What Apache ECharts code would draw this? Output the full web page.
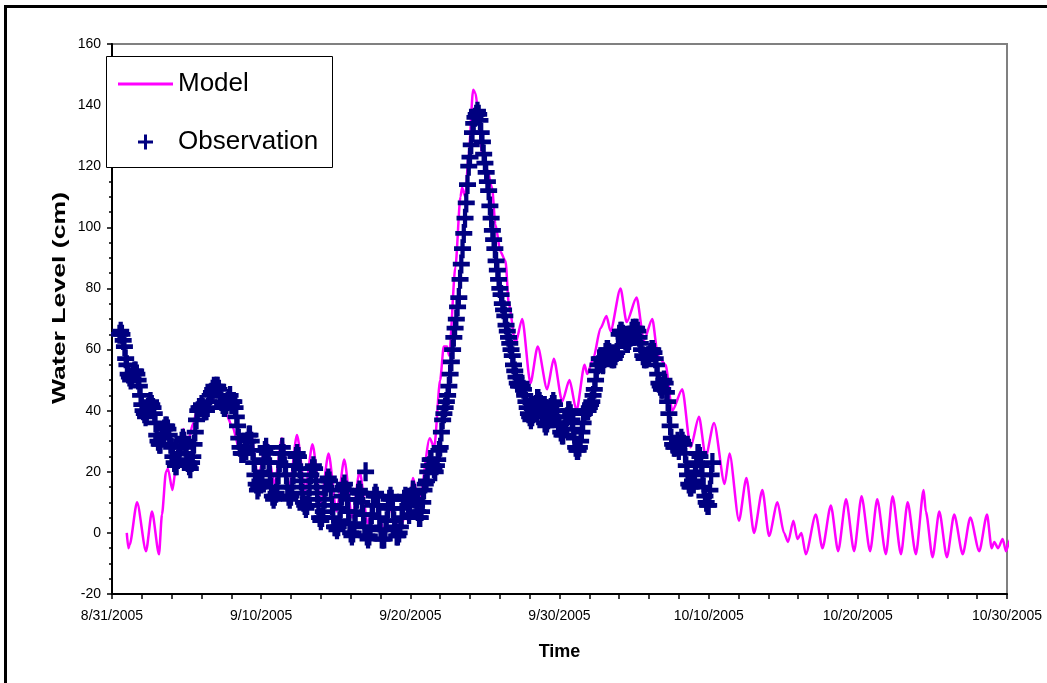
<!DOCTYPE html>
<html><head><meta charset="utf-8">
<script src="https://cdn.jsdelivr.net/npm/echarts@6/dist/echarts.min.js"></script>
<style>html,body{margin:0;padding:0;background:#fff}#c{width:1047px;height:683px}</style>
</head><body><div id="c"></div>
<script>
// x-axis tick labels (every 10 days from 8/31/2005)
const tickLabels = ['8/31/2005','9/10/2005','9/20/2005','9/30/2005','10/10/2005','10/20/2005','10/30/2005'];
const seriesNames = ['Model', 'Observation'];
const axisTitles = {x: 'Time', y: 'Water Level (cm)'};

// Model: time in days since 8/31/2005 00:00, water level (cm)
const modelDay = [0.99,1.10,1.18,1.68,2.28,2.68,3.15,3.35,3.62,3.75,4.05,4.25,4.55,4.78,5.05,5.45,5.69,6.1,6.6,7.0,7.4,7.7,8.03,8.7,9.26,9.8,10.34,10.9,11.39,11.9,12.4,12.95,13.44,14.0,14.52,15.05,15.57,16.1,16.6,17.15,17.65,18.2,18.7,19.25,19.7,19.85,20.18,20.6,21.3,21.6,22.0,22.24,22.46,22.6,23.02,23.36,23.47,23.69,23.91,24.21,24.36,24.58,24.81,25.15,25.48,25.7,26.04,26.38,26.6,27.05,27.5,28.05,28.54,29.17,29.62,30.18,30.67,31.14,31.68,31.86,32.26,32.75,33.15,33.42,34.09,34.5,35.17,35.66,36.22,36.6,37.11,37.56,38.23,38.79,39.35,39.8,40.36,41.07,41.4,42.03,42.53,43.04,43.6,44.05,44.61,45.05,45.32,45.68,45.95,46.22,46.51,47.18,47.63,48.19,48.68,49.21,49.75,50.25,50.82,51.3,51.88,52.33,52.89,53.34,53.89,54.41,54.56,55.01,55.46,55.97,56.46,57.03,57.54,58.14,58.66,58.97,59.15,59.4,59.71,59.93,60.22,60.49];
const modelLevel = [0,-5,-4,10,-6,7,-7,6,20,21,14,20,28,34,29,36,40,41,45,42,45,38.5,35,25,34,18,30,16,31,15,32,14,29,10,26,7,24,5,20,3,13,1,8,1,6,4,18,10,31,28,50,61,61,58,87,110,113,110,124,145,144,137,124,119,113,101,92,89,75,62,70,49,61,47,57,43,50,40,55,52,57,67,71,66,80,69,77,63,70,58,55,40,47,28,38,25,36,16,26,4,18,0,14,-1,10,0,-3,4,-2,0,-7,6,-5,9,-6,11,-6,12,-6,11,-7,12,-7,10,-7,14,7,-8,7,-8,6,-7,5,-6,6,-5,-3,-5,-2,-6,-2,-8];

// Observation: 2-hourly readings starting 8/31/2005 12:00
const obsStartDay = 0.5;
const obsStepHours = 2;
const obsLevel = [
 65,66,65,63,61,57,
 55,52,51,50,51,52,53,53,52,50,48,45,
 42,40,39,38,39,41,42,43,42,41,39,36,
 32,30,29,29,31,32,34,35,35,34,32,29,
 28,25,23,22,22,24,26,28,30,31,30,28,
 26,23,22,21,23,25,29,33,37,40,41,41,
 42,41,40,40,40,41,43,45,46,47,48,47,
 48,48,47,45,43,42,41,41,42,43,44,45,
 42,43,43,41,38,35,31,28,26,26,26,28,
 27,30,32,32,30,27,23,19,16,14,15,17,
 16,20,24,27,28,26,23,19,15,12,11,12,
 13,15,19,23,26,28,26,22,19,15,12,11,
 12,15,19,22,25,26,25,21,17,13,10,9,
 8,9,11,15,19,21,22,21,17,13,9,5,
 4,5,7,11,15,17,18,17,14,9,5,2,
 2,1,2,4,8,12,15,16,14,11,7,3,
 0,-1,0,3,7,11,13,14,13,10,6,2,
 20,-1,-2,-1,2,6,9,12,13,12,9,5,
 1,-2,-2,-2,1,4,8,11,12,11,8,4,
 2,-1,-1,0,2,5,8,11,12,11,9,6,
 10,12,14,13,11,9,7,5,5,7,10,14,
 16,17,20,22,24,24,22,21,20,22,24,27,
 28,33,37,39,41,43,45,48,52,56,60,64,
 67,70,74,77,83,88,93,98,103,108,114,120,
 123,127,131,134,136,137,138,137,135,131,128,124,
 121,118,115,112,107,103,99,96,93,89,86,83,
 80,78,75,73,71,68,66,64,62,60,58,55,
 53,51,49,48,48,49,48,47,45,43,41,39,
 38,37,38,39,41,42,44,44,43,42,40,38,
 36,35,36,37,39,41,42,43,42,40,38,36,
 35,33,32,32,34,36,38,40,40,39,37,34,
 31,28,27,27,28,30,33,36,39,40,40,40,
 41,42,43,45,47,50,53,55,57,57,56,55,
 57,59,60,60,59,58,57,57,57,58,59,61,
 65,66,66,65,64,63,62,62,63,64,66,67,
 66,67,67,66,64,62,60,58,57,57,57,58,
 58,59,60,60,59,57,55,52,49,48,47,47,
 50,49,46,43,39,35,31,29,28,28,29,30,
 27,29,31,30,29,26,22,19,16,15,15,17,
 16,20,23,26,26,25,22,19,15,12,10,9,
 9,14,19,23
];

function hasFont(name){
  const c = document.createElement('canvas').getContext('2d');
  const s = 'Observation Model 0123';
  c.font = '40px monospace'; const a = c.measureText(s).width;
  c.font = "40px '" + name + "', monospace"; const b = c.measureText(s).width;
  return Math.abs(a - b) > 0.5;
}
const narrow = hasFont('Liberation Sans Narrow');
const legendFont = narrow ? "'Liberation Sans Narrow'" : "'Liberation Sans'";
const legendSize = narrow ? 31 : 26;

const modelData = modelDay.map((d, i) => [d, modelLevel[i]]);
const obsData = obsLevel.map((v, i) => [obsStartDay + i * obsStepHours / 24, v]);

const plusPath = 'path://M6,0H10V6H16V10H10V16H6V10H0V6H6Z';
const plusLegend = 'path://M6,0H9V6H15V9H9V15H6V9H0V6H6Z';
const linePath = 'path://M0,0H55V3H0Z';
const F = "'Liberation Sans', Arial, sans-serif";

const chart = echarts.init(document.getElementById('c'), null, {renderer: 'canvas'});
chart.setOption({
  animation: false,
  backgroundColor: '#fff',
  graphic: [
    {type: 'rect', z: 100, silent: true, shape: {x: 5.5, y: 6.5, width: 1100, height: 720},
     style: {fill: 'none', stroke: '#000', lineWidth: 3}},
    {type: 'rect', z: 50, silent: true, shape: {x: 106.5, y: 56.5, width: 226, height: 111},
     style: {fill: '#fff', stroke: '#000', lineWidth: 1}},
    {type: 'text', z: 50, silent: true, x: 60, y: 298, rotation: Math.PI / 2, scaleX: 1.48,
     style: {text: axisTitles.y, font: "bold 18px 'Liberation Sans', Arial, sans-serif", fill: '#000',
             textAlign: 'center', textVerticalAlign: 'middle'}}
  ],
  grid: {left: 112, right: 40, top: 44, bottom: 89, show: true, borderColor: '#808080', borderWidth: 2, backgroundColor: '#fff'},
  legend: {
    z: 60, left: 118, top: 70, padding: 0, orient: 'vertical', selectedMode: false,
    itemWidth: 55, itemHeight: 15, itemGap: 30,
    textStyle: {fontSize: legendSize, fontFamily: legendFont, color: '#000', lineHeight: 28},
    data: [
      {name: seriesNames[0], icon: linePath},
      {name: seriesNames[1], icon: plusLegend, itemStyle: {opacity: 1}}
    ]
  },
  xAxis: {
    type: 'value', min: 0, max: 60, interval: 10,
    name: axisTitles.x, nameLocation: 'middle', nameGap: 49,
    nameTextStyle: {fontSize: 18, fontWeight: 'bold', fontFamily: F, color: '#000'},
    axisLine: {show: true, onZero: false, lineStyle: {color: '#000', width: 2}},
    axisTick: {show: true, length: 5, lineStyle: {color: '#000', width: 1.5}},
    minorTick: {show: true, splitNumber: 5, length: 5, lineStyle: {color: '#000', width: 1.5}},
    splitLine: {show: false},
    axisLabel: {fontSize: 14, fontFamily: F, color: '#000', margin: 15, showMinLabel: true, showMaxLabel: true,
      formatter: v => tickLabels[Math.round(v / 10)]}
  },
  yAxis: {
    type: 'value', min: -20, max: 160, interval: 20,
    axisLine: {show: true, onZero: false, lineStyle: {color: '#000', width: 2}},
    axisTick: {show: true, length: 5, lineStyle: {color: '#000', width: 1.5}},
    minorTick: {show: true, splitNumber: 4, length: 3, lineStyle: {color: '#000', width: 1.5}},
    splitLine: {show: false},
    axisLabel: {fontSize: 14, fontFamily: F, color: '#000', margin: 11}
  },
  series: [
    {name: seriesNames[0], type: 'line', data: modelData, showSymbol: false, symbol: 'none',
     smooth: 0.25, smoothMonotone: 'x', clip: false, z: 2,
     itemStyle: {color: '#ff00ff'}, lineStyle: {color: '#ff00ff', width: 2.5}},
    {name: seriesNames[1], type: 'scatter', data: obsData, symbol: plusPath, symbolSize: [17, 19], z: 3,
     itemStyle: {color: '#000080', opacity: 1}}
  ]
});
</script>
</body></html>
